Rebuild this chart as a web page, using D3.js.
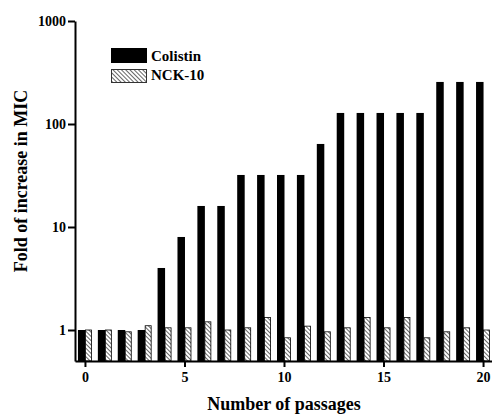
<!DOCTYPE html>
<html>
<head>
<meta charset="utf-8">
<script src="https://cdn.jsdelivr.net/npm/d3@7"></script>
<style>
  body { margin: 0; background: #fff; }
  svg text { font-family: "Liberation Serif", "Times New Roman", serif; font-weight: bold; }
</style>
</head>
<body>
<div id="chart"></div>
<script>
const passages = d3.range(0, 21);
const colistin = [1, 1, 1, 1, 4, 8, 16, 16, 32, 32, 32, 32, 64, 128, 128, 128, 128, 128, 256, 256, 256];
const nck10 = [1, 1, 0.96, 1.1, 1.05, 1.05, 1.2, 1.0, 1.05, 1.32, 0.84, 1.09, 0.96, 1.05, 1.32, 1.05, 1.32, 0.84, 0.96, 1.05, 1.0];
const yTicks = [1, 10, 100, 1000];
const xTicks = [0, 5, 10, 15, 20];
const seriesNames = ["Colistin", "NCK-10"];

const W = 492, H = 416;
const svg = d3.select("#chart").append("svg")
  .attr("width", W).attr("height", H);

const defs = svg.append("defs");
defs.append("pattern")
  .attr("id", "hatch")
  .attr("patternUnits", "userSpaceOnUse")
  .attr("width", 3).attr("height", 3)
  .attr("patternTransform", "rotate(-45)")
  .call(p => {
    p.append("rect").attr("width", 3).attr("height", 3).attr("fill", "#fff");
    p.append("line").attr("x1", 0.5).attr("y1", 0).attr("x2", 0.5).attr("y2", 3)
      .attr("stroke", "#666").attr("stroke-width", 1);
  });

const x = d3.scaleLinear().domain([-0.5, 20.5]).range([75, 493]);
const y = d3.scaleLog().domain([0.5, 1000]).range([361, 21]);
const barW = 7;

// bars
svg.append("g").selectAll("rect")
  .data(passages)
  .enter().append("rect")
  .attr("x", d => x(d) - barW)
  .attr("y", d => y(colistin[d]))
  .attr("width", barW + 0.5)
  .attr("height", d => y(0.5) - y(colistin[d]))
  .attr("fill", "#000");

svg.append("g").selectAll("rect")
  .data(passages)
  .enter().append("rect")
  .attr("x", d => x(d) + 0.5)
  .attr("y", d => y(nck10[d]))
  .attr("width", barW - 1)
  .attr("height", d => y(0.5) - y(nck10[d]))
  .attr("fill", "url(#hatch)")
  .attr("stroke", "#000")
  .attr("stroke-width", 0.8);

// axes
const yAxis = svg.append("g")
  .attr("transform", "translate(75,0)")
  .call(d3.axisLeft(y).tickValues(yTicks).tickFormat(d3.format("d")).tickSize(7).tickSizeOuter(0));
const xAxis = svg.append("g")
  .attr("transform", "translate(0,361)")
  .call(d3.axisBottom(x).tickValues(xTicks).tickSize(6).tickSizeOuter(0));

[yAxis, xAxis].forEach(a => {
  a.select(".domain").attr("stroke", "#000").attr("stroke-width", 2);
  a.selectAll(".tick line").attr("stroke", "#000").attr("stroke-width", 2);
  a.selectAll(".tick text").attr("fill", "#000").style("font-size", "14px");
});
yAxis.selectAll(".tick text").attr("x", -9);
xAxis.selectAll(".tick text").attr("y", 11);

// axis titles
svg.append("text")
  .attr("transform", "translate(27,181) rotate(-90)")
  .attr("text-anchor", "middle")
  .style("font-size", "18px")
  .text("Fold of increase in MIC");

svg.append("text")
  .attr("x", 284).attr("y", 410)
  .attr("text-anchor", "middle")
  .style("font-size", "18px")
  .text("Number of passages");

// legend
const legend = svg.append("g");
legend.append("rect").attr("x", 111).attr("y", 48).attr("width", 36).attr("height", 15).attr("fill", "#000");
legend.append("rect").attr("x", 111.5).attr("y", 69.5).attr("width", 35).attr("height", 13)
  .attr("fill", "url(#hatch)").attr("stroke", "#333").attr("stroke-width", 1);
legend.selectAll("text")
  .data(seriesNames)
  .enter().append("text")
  .attr("x", 151)
  .attr("y", (d, i) => 61 + i * 19)
  .style("font-size", "15px")
  .text(d => d);
</script>
</body>
</html>
